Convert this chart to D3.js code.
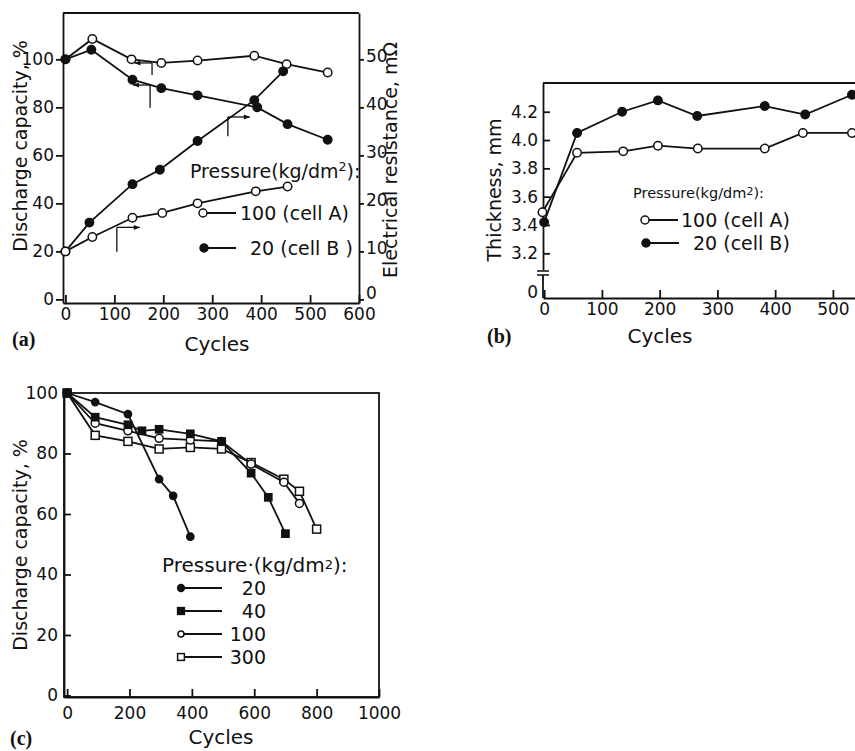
<!DOCTYPE html>
<html lang="en">
  <head>
    <meta charset="UTF-8" />
    <title>Cells: capacity, resistance, thickness vs cycles</title>
    <style>
      body { margin: 0; background: #fff; }
      text { font-family: "DejaVu Sans", sans-serif; fill: #111; }
      .tag { font-family: "Liberation Serif", "DejaVu Serif", serif; font-weight: bold; }
    </style>
  </head>
  <body>
    <svg id="svg" width="855" height="751"></svg>

    <script src="https://d3js.org/d3.v7.min.js"></script>
    <script>
      // ---- panel (a): discharge capacity (left axis) and resistance (right axis)
      const capCyclesA = [0, 55, 135, 196, 270, 386, 452, 536];
      const capA = [100, 108.5, 100, 98.5, 99.5, 101.5, 98, 94.5];
      const capCyclesB = [0, 53, 137, 196, 270, 392, 454, 536];
      const capB = [100, 104, 91.5, 88, 85, 80, 73, 66.5];
      const resCyclesA = [0, 55, 137, 198, 270, 389, 454];
      const resA = [10, 13, 17, 18, 20, 22.5, 23.5];
      const resCyclesB = [0, 49, 137, 193, 270, 386, 445];
      const resB = [10, 16, 24, 27, 33, 41.5, 47.5];
      // axis marker arrows: cycle, top value, bottom value (left units), arrow end cycle
      const arrowsA = [
        { x: 177, y0: 98.5, y1: 93.5, to: 141 },
        { x: 173, y0: 89.3, y1: 79.8, to: 138 },
        { x: 332, y0: 76, y1: 68, to: 377 },
        { x: 105, y0: 30, y1: 19.8, to: 152 },
      ];

      // ---- panel (b): thickness
      const thkCyclesA = [-3, 57, 137, 197, 266, 382, 448, 533];
      const thkA = [3.49, 3.91, 3.92, 3.96, 3.94, 3.94, 4.05, 4.05];
      const thkCyclesB = [0, 57, 135, 197, 265, 382, 452, 533];
      const thkB = [3.42, 4.05, 4.2, 4.28, 4.17, 4.24, 4.18, 4.32];

      // ---- panel (c): discharge capacity at several pressures
      const pressures = ["20", "40", "100", "300"];
      const cCycles20 = [0, 90, 195, 295, 340, 395];
      const cCap20 = [100, 97, 93, 71.5, 66, 52.5];
      const cCycles40 = [0, 90, 195, 240, 295, 395, 495, 590, 645, 700];
      const cCap40 = [100, 92, 89.5, 87.5, 88, 86.5, 84, 73.5, 65.5, 53.5];
      const cCycles100 = [0, 90, 195, 295, 395, 495, 590, 695, 745];
      const cCap100 = [100, 90, 87.5, 85, 84.5, 84, 76.5, 70.5, 63.5];
      const cCycles300 = [0, 90, 195, 295, 395, 495, 590, 695, 745, 800];
      const cCap300 = [100, 86, 84, 81.5, 82, 81.5, 77, 71.5, 67.5, 55];

      const svg = d3.select("#svg");
      const line = (xs, ys, x, y) =>
        d3.line().x((d) => x(d[0])).y((d) => y(d[1]))(d3.zip(xs, ys));

      function marker(g, type, cx, cy, r) {
        if (type == "open" || type == "filled") {
          g.append("circle").attr("cx", cx).attr("cy", cy).attr("r", r)
            .attr("fill", type == "open" ? "#fff" : "#111")
            .attr("stroke", "#111").attr("stroke-width", 1.5);
        } else {
          g.append("rect").attr("x", cx - r).attr("y", cy - r)
            .attr("width", 2 * r).attr("height", 2 * r)
            .attr("fill", type == "osq" ? "#fff" : "#111")
            .attr("stroke", "#111").attr("stroke-width", 1.5);
        }
      }

      function series(g, xs, ys, x, y, type, r) {
        g.append("path").attr("d", line(xs, ys, x, y))
          .attr("fill", "none").attr("stroke", "#111").attr("stroke-width", 1.8);
        xs.forEach((v, i) => marker(g, type, x(v), y(ys[i]), r));
      }

      function styleAxis(sel) {
        sel.selectAll("path, line").attr("stroke", "#111").attr("stroke-width", 1.8);
        sel.selectAll("text").attr("font-size", 17).attr("fill", "#111")
          .style("font-family", null);
        sel.attr("font-family", null);
      }

      function legendRow(g, x0, x1, y, type, label, tx, r) {
        g.append("line").attr("x1", x0).attr("x2", x1).attr("y1", y).attr("y2", y)
          .attr("stroke", "#111").attr("stroke-width", 2);
        marker(g, type, x0, y, r);
        g.append("text").attr("x", tx).attr("y", y + 7).attr("font-size", 19).text(label);
      }

      // ================= (a) =================
      const gA = svg.append("g");
      const xA = d3.scaleLinear().domain([-5, 600]).range([63, 359]);
      const yA = d3.scaleLinear().domain([-1.5, 119.3]).range([303, 13]);
      const yAr = d3.scaleLinear().domain([-0.75, 59.65]).range([303, 13]);

      gA.append("line").attr("x1", 63).attr("x2", 359).attr("y1", 13).attr("y2", 13)
        .attr("stroke", "#111").attr("stroke-width", 1.8);
      gA.append("g").attr("transform", "translate(63,0)")
        .call(d3.axisLeft(yA).tickValues([0, 20, 40, 60, 80, 100]).tickSize(7).tickPadding(2).tickSizeOuter(0))
        .call(styleAxis);
      gA.append("g").attr("transform", "translate(359,0)")
        .call(d3.axisRight(yAr).tickValues([0, 10, 20, 30, 40, 50]).tickSize(5).tickPadding(2).tickSizeOuter(0))
        .call(styleAxis)
        .call((g) => g.selectAll("text").attr("dy", (d) => (d == 0 ? "-0.05em" : "0.15em")));
      gA.append("g").attr("transform", "translate(0,303)")
        .call(d3.axisBottom(xA).tickValues([0, 100, 200, 300, 400, 500, 600]).tickSize(-8).tickPadding(5).tickSizeOuter(0))
        .call(styleAxis);

      series(gA, capCyclesA, capA, xA, yA, "open", 4.2);
      series(gA, capCyclesB, capB, xA, yA, "filled", 4.2);
      series(gA, resCyclesB, resB, xA, yAr, "filled", 4.2);
      series(gA, resCyclesA, resA, xA, yAr, "open", 4.2);

      arrowsA.forEach((a) => {
        gA.append("line").attr("x1", xA(a.x)).attr("x2", xA(a.x))
          .attr("y1", yA(a.y0)).attr("y2", yA(a.y1))
          .attr("stroke", "#111").attr("stroke-width", 1.3);
        gA.append("line").attr("x1", xA(a.x)).attr("x2", xA(a.to))
          .attr("y1", yA(a.y0)).attr("y2", yA(a.y0))
          .attr("stroke", "#111").attr("stroke-width", 1.3);
        const s = a.to < a.x ? 1 : -1;
        const tx = xA(a.to), ty = yA(a.y0);
        gA.append("path")
          .attr("d", `M${tx},${ty} L${tx + 6 * s},${ty - 2.5} L${tx + 6 * s},${ty + 2.5} Z`)
          .attr("fill", "#111");
      });

      const hA = gA.append("text").attr("x", 190).attr("y", 178).attr("font-size", 19);
      hA.append("tspan").text("Pressure(kg/dm");
      hA.append("tspan").attr("font-size", 12.5).attr("dy", -7).text("2");
      hA.append("tspan").attr("dy", 7).text("):");
      legendRow(gA, 203, 236, 213, "open", "100 (cell A)", 240, 4);
      legendRow(gA, 204, 236, 248, "filled", "20 (cell B )", 250, 4);

      gA.append("text").attr("transform", "translate(27,146) rotate(-90)")
        .attr("text-anchor", "middle").attr("font-size", 19).text("Discharge capacity, %");
      gA.append("text").attr("transform", "translate(397,160) rotate(-90)")
        .attr("text-anchor", "middle").attr("font-size", 19).text("Electrical resistance, mΩ");
      gA.append("text").attr("x", 217).attr("y", 351).attr("text-anchor", "middle")
        .attr("font-size", 20).text("Cycles");
      gA.append("text").attr("class", "tag").attr("x", 12).attr("y", 346)
        .attr("font-size", 20).text("(a)");

      // ================= (b) =================
      const gB = svg.append("g");
      const xB = d3.scaleLinear().domain([-2, 540]).range([543, 856]);
      const yB = d3.scaleLinear().domain([3.082, 4.403]).range([270, 83]);

      gB.append("line").attr("x1", 543).attr("x2", 855).attr("y1", 83).attr("y2", 83)
        .attr("stroke", "#111").attr("stroke-width", 1.8);
      gB.append("g").attr("transform", "translate(543,0)")
        .call(d3.axisLeft(yB).tickValues([3.2, 3.4, 3.6, 3.8, 4.0, 4.2]).tickFormat(d3.format(".1f"))
          .tickSize(-7).tickPadding(5).tickSizeOuter(0))
        .call(styleAxis);
      // broken axis below 3.2 down to zero
      gB.append("line").attr("x1", 543).attr("x2", 543).attr("y1", 275).attr("y2", 298)
        .attr("stroke", "#111").attr("stroke-width", 1.8);
      [271, 275].forEach((yy) =>
        gB.append("line").attr("x1", 537).attr("x2", 549).attr("y1", yy).attr("y2", yy)
          .attr("stroke", "#111").attr("stroke-width", 1.5));
      gB.append("text").attr("x", 538).attr("y", 298).attr("text-anchor", "end")
        .attr("font-size", 17).text("0");
      gB.append("g").attr("transform", "translate(0,298)")
        .call(d3.axisBottom(xB).tickValues([0, 100, 200, 300, 400, 500]).tickSize(-8).tickPadding(5).tickSizeOuter(0))
        .call(styleAxis);

      series(gB, thkCyclesB, thkB, xB, yB, "filled", 4.2);
      series(gB, thkCyclesA, thkA, xB, yB, "open", 4.2);

      const hB = gB.append("text").attr("x", 633).attr("y", 198).attr("font-size", 14.5);
      hB.append("tspan").text("Pressure(kg/dm");
      hB.append("tspan").attr("font-size", 11).attr("dy", -3).text("2");
      hB.append("tspan").attr("dy", 3).text("):");
      legendRow(gB, 645, 678, 220, "open", "100 (cell A)", 681, 4);
      legendRow(gB, 646, 679, 243, "filled", "20 (cell B)", 693, 4);

      gB.append("text").attr("transform", "translate(501,190) rotate(-90)")
        .attr("text-anchor", "middle").attr("font-size", 19).text("Thickness, mm");
      gB.append("text").attr("x", 660).attr("y", 343).attr("text-anchor", "middle")
        .attr("font-size", 20).text("Cycles");
      gB.append("text").attr("class", "tag").attr("x", 487).attr("y", 343)
        .attr("font-size", 20).text("(b)");

      // ================= (c) =================
      const gC = svg.append("g");
      const xC = d3.scaleLinear().domain([-10, 1000]).range([64, 379]);
      const yC = d3.scaleLinear().domain([-0.5, 100]).range([697, 393]);

      gC.append("rect").attr("x", 64).attr("y", 393).attr("width", 315).attr("height", 304)
        .attr("fill", "none").attr("stroke", "#111").attr("stroke-width", 1.8);
      gC.append("g").attr("transform", "translate(64,0)")
        .call(d3.axisLeft(yC).tickValues([0, 20, 40, 60, 80, 100]).tickSize(-7).tickPadding(6).tickSizeOuter(0))
        .call(styleAxis);
      gC.append("g").attr("transform", "translate(0,697)")
        .call(d3.axisBottom(xC).tickValues([0, 200, 400, 600, 800, 1000]).tickFormat(d3.format("d"))
          .tickSize(-8).tickPadding(10).tickSizeOuter(0))
        .call(styleAxis);

      const cTypes = ["filled", "fsq", "open", "osq"];
      series(gC, cCycles300, cCap300, xC, yC, "osq", 4);
      series(gC, cCycles100, cCap100, xC, yC, "open", 4);
      series(gC, cCycles40, cCap40, xC, yC, "fsq", 3.6);
      series(gC, cCycles20, cCap20, xC, yC, "filled", 3.6);

      const hC = gC.append("text").attr("x", 162).attr("y", 572).attr("font-size", 20);
      hC.append("tspan").text("Pressure·(kg/dm");
      hC.append("tspan").attr("font-size", 13).attr("dy", -3).text("2");
      hC.append("tspan").attr("dy", 3).text("):");
      pressures.forEach((p, i) => {
        const yy = 588 + i * 23;
        gC.append("line").attr("x1", 181).attr("x2", 222).attr("y1", yy).attr("y2", yy)
          .attr("stroke", "#111").attr("stroke-width", 2);
        marker(gC, cTypes[i], 181, yy, i == 2 ? 3 : 3.4);
        gC.append("text").attr("x", 266).attr("y", yy + 7).attr("text-anchor", "end")
          .attr("font-size", 19).text(p);
      });

      gC.append("text").attr("transform", "translate(27,545) rotate(-90)")
        .attr("text-anchor", "middle").attr("font-size", 19).text("Discharge capacity, %");
      gC.append("text").attr("x", 221).attr("y", 744).attr("text-anchor", "middle")
        .attr("font-size", 20).text("Cycles");
      gC.append("text").attr("class", "tag").attr("x", 10).attr("y", 745)
        .attr("font-size", 20).text("(c)");
    </script>
  </body>
</html>
